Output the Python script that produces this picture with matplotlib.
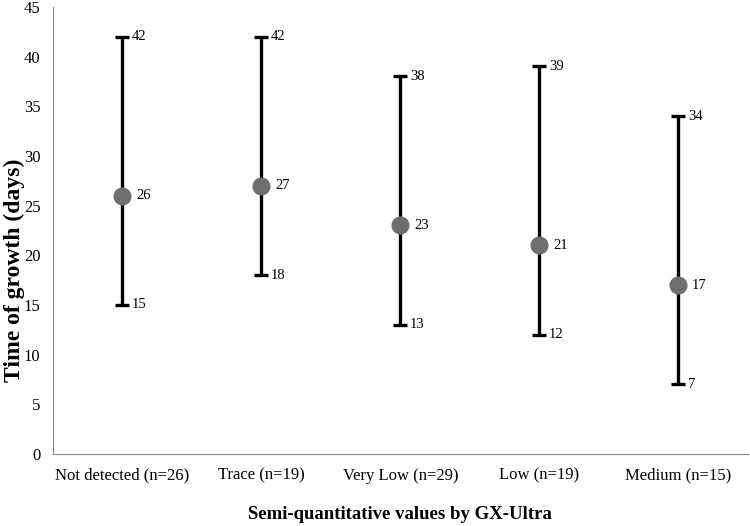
import numpy as np
import matplotlib.pyplot as plt

categories = ['Not detected (n=26)', 'Trace (n=19)', 'Very Low (n=29)', 'Low (n=19)', 'Medium (n=15)']
medians = [26, 27, 23, 21, 17]
mins = [15, 18, 13, 12, 7]
maxs = [42, 42, 38, 39, 34]

plt.rcParams['font.family'] = ['Liberation Serif', 'DejaVu Serif']

fig = plt.figure(figsize=(7.5, 5.26), dpi=100)
ax = fig.add_axes([0.0707, 0.137, 0.926, 0.85])

x = np.arange(len(categories))
med = np.array(medians)
lo = med - np.array(mins)
hi = np.array(maxs) - med

ax.errorbar(x, med, yerr=[lo, hi], fmt='o', color='#6e6e6e', markersize=12,
            ecolor='black', elinewidth=2.4, capsize=5, capthick=2.4, zorder=3)

for xi, m, a, b in zip(x, medians, mins, maxs):
    ax.annotate(str(b), (xi, b), xytext=(7, 0), textcoords='offset points', va='center', fontsize=10.5)
    ax.annotate(str(m), (xi, m), xytext=(10, 0), textcoords='offset points', va='center', fontsize=10.5)
    ax.annotate(str(a), (xi, a), xytext=(7, 0), textcoords='offset points', va='center', fontsize=10.5)

ax.set_xlim(-0.5, len(categories) - 0.5)
ax.set_ylim(0, 45)
ax.set_yticks(range(0, 46, 5))
ax.set_xticks(x)
ax.set_xticklabels(categories)
ax.tick_params(axis='both', length=0, labelsize=12)
ax.tick_params(axis='y', pad=9)
ax.tick_params(axis='x', pad=10)

for s in ['top', 'right']:
    ax.spines[s].set_visible(False)
for s in ['left', 'bottom']:
    ax.spines[s].set_color('#8c8c8c')

ax.set_xlabel('Semi-quantitative values by GX-Ultra', fontsize=13.5, fontweight='bold', labelpad=16)
ax.set_ylabel('Time of growth (days)', fontsize=17, fontweight='bold')
ax.yaxis.set_label_coords(-0.041, 0.41)

fig.savefig('out.png', dpi=100)
